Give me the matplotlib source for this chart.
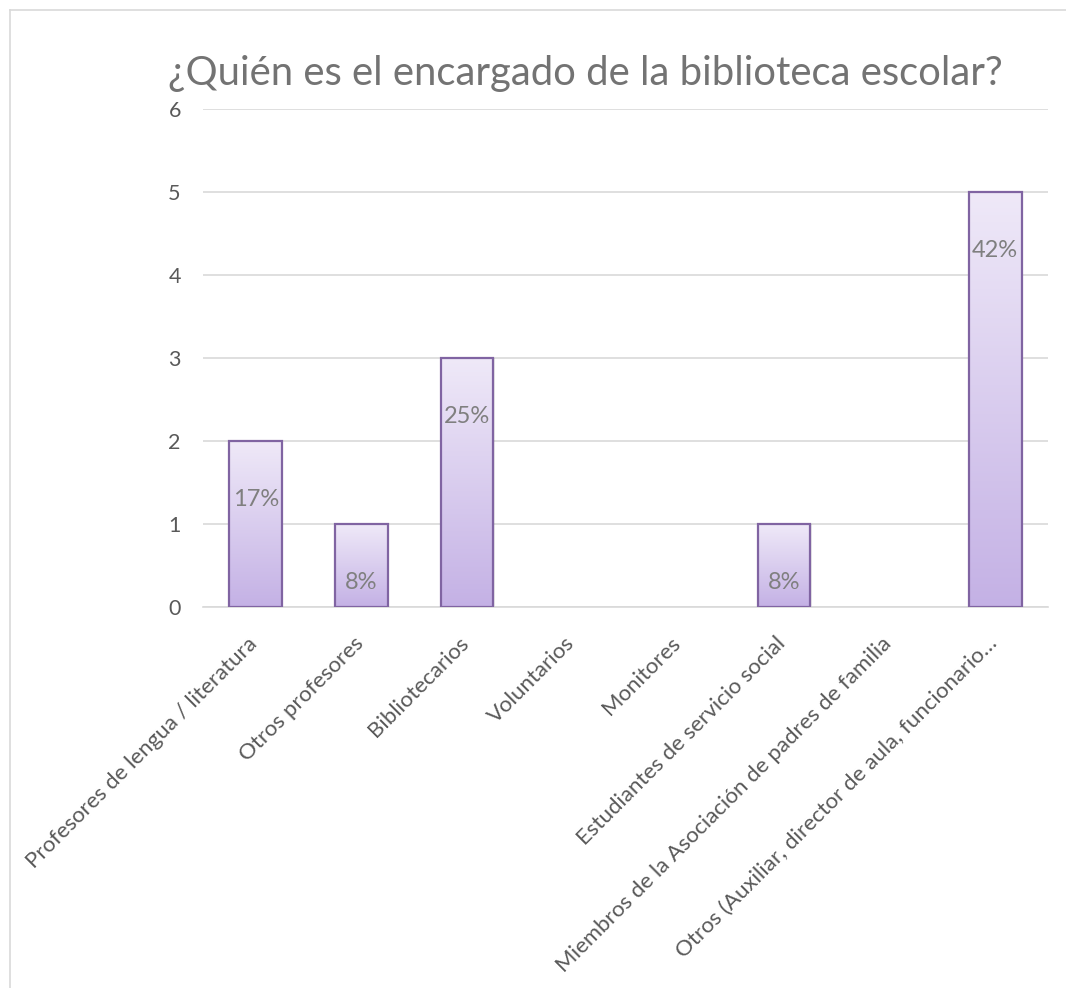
import matplotlib.pyplot as plt
import numpy as np
from matplotlib.colors import LinearSegmentedColormap

categories = [
    "Profesores de lengua / literatura",
    "Otros profesores",
    "Bibliotecarios",
    "Voluntarios",
    "Monitores",
    "Estudiantes de servicio social",
    "Miembros de la Asociación de padres de familia",
    "Otros (Auxiliar, director de aula, funcionario…",
]
values = [2, 1, 3, 0, 0, 1, 0, 5]
yticks = [0, 1, 2, 3, 4, 5, 6]

plt.rcParams['font.family'] = ['Lato', 'DejaVu Sans']

fig = plt.figure(figsize=(10.66, 9.88), dpi=100)
ax = fig.add_axes([203/1066, 1 - 607/988, (1048 - 203)/1066, (607 - 109)/988])

# chart border (cut off at right / bottom like the screenshot)
fig.add_artist(plt.Line2D([10/1066, 1.0], [1 - 10/988, 1 - 10/988], color='#D9D9D9', lw=1.2))
fig.add_artist(plt.Line2D([10/1066, 10/1066], [0.0, 1 - 10/988], color='#D9D9D9', lw=1.2))

x = np.arange(len(categories))
w = 0.5
cmap = LinearSegmentedColormap.from_list('lav', ['#C4B1E5', '#EFE9F8'])
grad = np.linspace(0, 1, 256).reshape(-1, 1)

ec = ['#8064A2' if v else 'none' for v in values]
bars = ax.bar(x, values, width=w, facecolor='none', edgecolor=ec, lw=1.6, zorder=3)
total = sum(values)
for b, v in zip(bars, values):
    if v == 0:
        continue
    x0, y0 = b.get_x(), b.get_y()
    # soft shadow
    sh = plt.Rectangle((x0 + 0.012, y0), b.get_width(), v, facecolor='#000000', alpha=0.08,
                       edgecolor='none', zorder=1.5)
    ax.add_patch(sh)
    im = ax.imshow(grad, cmap=cmap, aspect='auto', origin='lower',
                   extent=(x0, x0 + b.get_width(), y0, y0 + v), zorder=2)
    im.set_clip_path(b)
    ax.annotate(f"{round(v / total * 100)}%", (b.get_x() + b.get_width()/2, v),
                xytext=(0, -42), textcoords='offset points', ha='center', va='center',
                fontsize=17, color='#7F7F7F', zorder=4)

ax.set_xlim(-0.5, len(categories) - 0.5)
ax.set_ylim(0, 6)
ax.set_yticks(yticks)
ax.set_xticks(x)
ax.set_xticklabels([])
# category labels, rotated 45
for xi, cat in zip(x, categories):
    ax.annotate(cat, (xi, 0), xycoords=ax.get_xaxis_transform(),
                xytext=(-6, -19), textcoords='offset points',
                rotation=45, ha='right', va='top', rotation_mode='anchor',
                fontsize=16, color='#595959', annotation_clip=False)
ax.tick_params(axis='y', length=0, pad=16, labelsize=15.5, labelcolor='#595959')
ax.tick_params(axis='x', length=0)
ax.grid(axis='y', color='#D9D9D9', lw=1.2, zorder=0)
for s in ['top', 'right', 'left']:
    ax.spines[s].set_visible(False)
ax.spines['bottom'].set_color('#D9D9D9')
ax.spines['bottom'].set_linewidth(1.2)
ax.set_axisbelow(True)

fig.text(168/1066, 1 - 74/988, "¿Quién es el encargado de la biblioteca escolar?",
         fontsize=28.8, color='#737373', va='center', ha='left')

fig.savefig('out.png', dpi=100)
